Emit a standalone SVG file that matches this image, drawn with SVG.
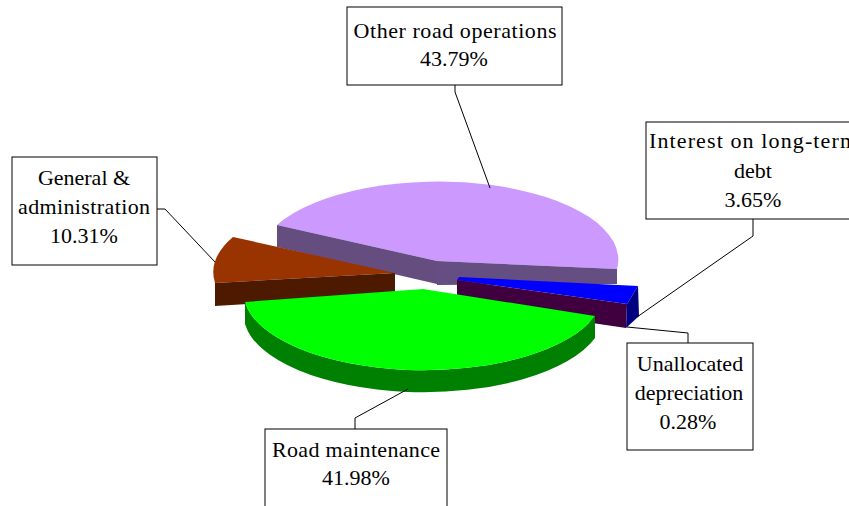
<svg xmlns="http://www.w3.org/2000/svg" width="849" height="506" viewBox="0 0 849 506">
<style>
.box{fill:#fff;stroke:#000;stroke-width:1}
.lbl{font-family:"Liberation Serif","Times New Roman",serif;font-size:22px;fill:#000;text-anchor:middle}
.conn{fill:none;stroke:#000;stroke-width:1}
</style>
<rect width="849" height="506" fill="#fff"/>
<g id="slice-other-road-operations">
<path d="M437,261 L277,225 A180,78 0 0 1 617,269 Z" fill="#cc99ff"/>
<polygon points="277,225 437,261 437,284 277,247" fill="#664d80"/>
<polygon points="437,261 617,269 617,284 437,285" fill="#654f82"/>
</g>
<g id="slice-general-administration">
<path d="M395,273 L215,283 A180,78 0 0 1 233,237 Z" fill="#993300"/>
<polygon points="215,283 395,273 395,295 215,306" fill="#4d1a00"/>
</g>
<g id="slice-interest-unallocated">
<polygon points="459,277 638,286 627,304 457,280" fill="#0000ff"/>
<polygon points="457,280 627,304 626,328 457,303" fill="#400040"/>
<polygon points="627,304 638,286 639,316 626,328" fill="#000080"/>
</g>
<g id="slice-road-maintenance">
<path d="M245,302 A180,78 0 0 0 595,316 L595,338 A180,78 0 0 1 245,324 Z" fill="#008000"/>
<path d="M423,289 L245,302 A180,78 0 0 0 595,316 Z" fill="#00ff00"/>
</g>
<g id="connectors">
<polyline class="conn" points="455,85 455,92 490,188"/>
<polyline class="conn" points="157,209 165,209 215,262"/>
<polyline class="conn" points="753,219 753,236 637,317"/>
<polyline class="conn" points="688,343 688,333 627,327"/>
<polyline class="conn" points="355,429 355,418 408,389"/>
</g>
<g id="label-other-road-operations">
<rect class="box" x="347" y="7" width="215" height="78"/>
<text class="lbl" x="455" y="38" textLength="203" lengthAdjust="spacing">Other road operations</text>
<text class="lbl" x="454" y="66">43.79%</text>
</g>
<g id="label-general-administration">
<rect class="box" x="12" y="157" width="145" height="108"/>
<text class="lbl" x="84" y="185">General &amp;</text>
<text class="lbl" x="84" y="214" textLength="132" lengthAdjust="spacing">administration</text>
<text class="lbl" x="84" y="243">10.31%</text>
</g>
<g id="label-interest">
<rect class="box" x="646" y="122" width="214" height="97"/>
<text class="lbl" x="753" y="148" textLength="208" lengthAdjust="spacing">Interest on long-term</text>
<text class="lbl" x="753" y="178">debt</text>
<text class="lbl" x="753" y="207">3.65%</text>
</g>
<g id="label-unallocated-depreciation">
<rect class="box" x="627" y="343" width="126" height="107"/>
<text class="lbl" x="690" y="371">Unallocated</text>
<text class="lbl" x="689" y="400">depreciation</text>
<text class="lbl" x="688" y="429">0.28%</text>
</g>
<g id="label-road-maintenance">
<rect class="box" x="265" y="429" width="182" height="90"/>
<text class="lbl" x="356" y="457" textLength="168" lengthAdjust="spacing">Road maintenance</text>
<text class="lbl" x="356" y="485">41.98%</text>
</g>
</svg>
